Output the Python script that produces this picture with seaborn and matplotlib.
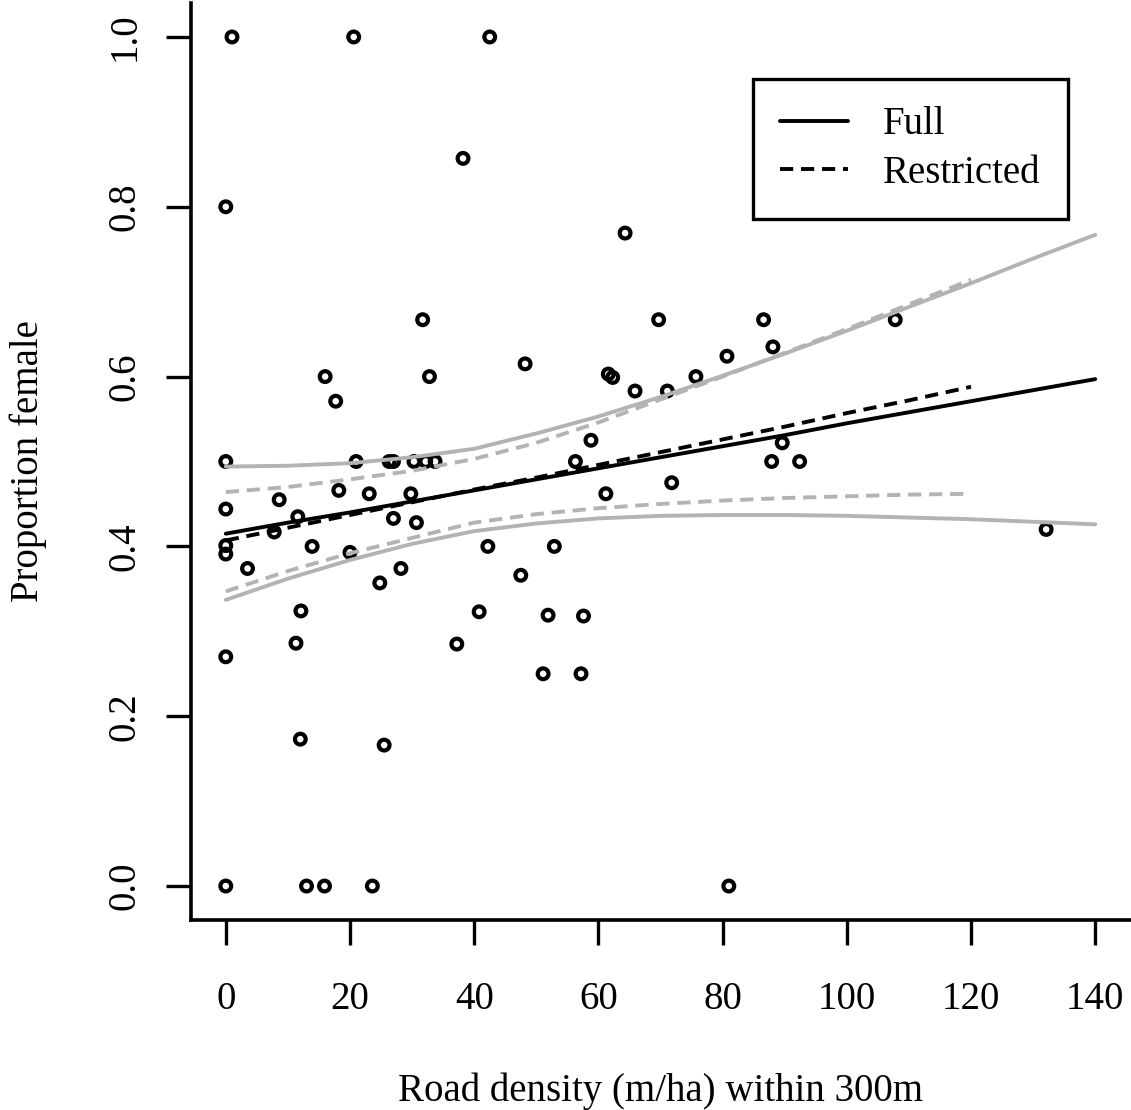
import numpy as np
import pandas as pd
import matplotlib
matplotlib.use("Agg")
import matplotlib.pyplot as plt
import seaborn as sns
from matplotlib.lines import Line2D

# Estilo base do seaborn, fonte serifada tipo Times e tudo em preto
sns.set_style("ticks")
plt.rcParams['font.family'] = ['Liberation Serif', 'DejaVu Serif']
plt.rcParams.update({'text.color': 'black', 'axes.labelcolor': 'black',
                     'xtick.color': 'black', 'ytick.color': 'black',
                     'axes.edgecolor': 'black'})

densidade = [1.0, 20.6, 42.5, 38.2, 0, 64.3,
             31.7, 69.7, 86.6, 107.8, 88.1, 80.7, 48.2, 61.6, 62.3,
             65.9, 71.1, 75.7, 16.0, 32.8, 17.7, 58.8, 89.6,
             0, 21.0, 26.3, 27.0, 30.3, 32.2, 33.7, 56.3, 87.9, 92.4,
             71.8, 18.2, 23.1, 29.8, 61.2, 8.6, 0, 11.6, 27.0, 30.7,
             132.1, 7.8, 0, 13.9, 42.2, 52.9, 0, 20.0, 3.5, 28.2,
             47.5, 24.8, 12.1, 40.8, 51.9, 57.6, 11.3, 37.2, 0,
             51.1, 57.2, 12.0, 25.5,
             0, 13.0, 15.9, 23.6, 81.0]
proporcao = [1.0, 1.0, 1.0, 0.857, 0.80, 0.769,
             0.667, 0.667, 0.667, 0.667, 0.635, 0.624, 0.615, 0.603, 0.599,
             0.583, 0.583, 0.600, 0.600, 0.600, 0.571, 0.525, 0.522,
             0.500, 0.500, 0.500, 0.500, 0.500, 0.500, 0.500, 0.500, 0.500, 0.500,
             0.475, 0.466, 0.462, 0.462, 0.462, 0.455, 0.444, 0.435, 0.433, 0.428,
             0.420, 0.417, 0.401, 0.400, 0.400, 0.400, 0.391, 0.393, 0.374, 0.374,
             0.366, 0.357, 0.324, 0.323, 0.319, 0.318, 0.286, 0.285, 0.270,
             0.250, 0.250, 0.173, 0.166,
             0.0, 0.0, 0.0, 0.0, 0.0]

# Curvas ajustadas (modelo completo) e intervalos
x_full = [0, 10, 20, 30, 40, 50, 60, 70, 80, 90, 100, 110, 120, 130, 140]
full_fit = [0.415, 0.428, 0.440, 0.453, 0.466, 0.479, 0.492, 0.505,
            0.518, 0.531, 0.545, 0.558, 0.571, 0.584, 0.597]
full_upper = [0.494, 0.495, 0.498, 0.505, 0.515, 0.533, 0.553, 0.576,
              0.601, 0.627, 0.654, 0.682, 0.710, 0.739, 0.767]
full_lower = [0.337, 0.362, 0.384, 0.403, 0.418, 0.427, 0.433, 0.436,
              0.437, 0.437, 0.436, 0.434, 0.432, 0.429, 0.426]

# Curvas ajustadas (modelo restrito)
x_restr = [0, 10, 20, 30, 40, 50, 60, 70, 80, 90, 100, 110, 120]
restr_fit = [0.407, 0.422, 0.437, 0.452, 0.467, 0.481, 0.496,
             0.511, 0.526, 0.541, 0.557, 0.572, 0.588]
restr_upper = [0.464, 0.470, 0.479, 0.489, 0.503, 0.522, 0.546,
               0.573, 0.600, 0.628, 0.656, 0.685, 0.714]
restr_lower = [0.347, 0.371, 0.392, 0.410, 0.428, 0.438, 0.445,
               0.450, 0.454, 0.457, 0.459, 0.461, 0.462]

cinza = '#b3b3b3'
tracejado = (0, (3.4, 2.0))
fonte = 28

fig = plt.figure(figsize=(11.31, 11.10), dpi=100)
ax = fig.add_axes([191 / 1131, 1 - 920 / 1110, (1130 - 191) / 1131, 917 / 1110])

# Pontos
sns.scatterplot(x=densidade, y=proporcao, ax=ax, marker='o', s=60,
                color='black', facecolor='none', edgecolor='black',
                linewidth=3.0, zorder=2)

# Linhas
lw = 2.8
sns.lineplot(x=x_full, y=full_upper, ax=ax, color=cinza, lw=lw, errorbar=None, zorder=3)
sns.lineplot(x=x_full, y=full_lower, ax=ax, color=cinza, lw=lw, errorbar=None, zorder=3)
sns.lineplot(x=x_restr, y=restr_upper, ax=ax, color=cinza, lw=lw, linestyle=tracejado,
             errorbar=None, zorder=3)
sns.lineplot(x=x_restr, y=restr_lower, ax=ax, color=cinza, lw=lw, linestyle=tracejado,
             errorbar=None, zorder=3)
sns.lineplot(x=x_full, y=full_fit, ax=ax, color='black', lw=lw, errorbar=None, zorder=4)
sns.lineplot(x=x_restr, y=restr_fit, ax=ax, color='black', lw=lw, linestyle=tracejado,
             errorbar=None, zorder=4)

# Eixos
ax.set_xlim(-5.6, 145.6)
ax.set_ylim(-0.04, 1.04)
ax.set_xticks(range(0, 141, 20))
ax.set_yticks([0, 0.2, 0.4, 0.6, 0.8, 1.0])
ax.set_yticklabels(['0.0', '0.2', '0.4', '0.6', '0.8', '1.0'])
sns.despine(ax=ax)
for lado in ['left', 'bottom']:
    ax.spines[lado].set_linewidth(2.6)
ax.tick_params(axis='both', length=18, width=2.4, labelsize=fonte, color='black')
ax.tick_params(axis='x', pad=26)
ax.tick_params(axis='y', pad=16, labelrotation=90)
for rot in ax.get_yticklabels():
    rot.set_va('center')

ax.set_xlabel('Road density (m/ha) within 300m', fontsize=fonte)
ax.set_ylabel('Proportion female', fontsize=fonte)
ax.xaxis.set_label_coords(0.5, -0.166)
ax.yaxis.set_label_coords(-0.153, 0.5)

# Legenda
handles = [Line2D([], [], color='black', lw=lw, label='Full'),
           Line2D([], [], color='black', lw=lw, linestyle=tracejado, label='Restricted')]
leg = ax.legend(handles=handles, loc='upper left',
                bbox_to_anchor=(753 / 1131, 1 - 79 / 1110), bbox_transform=fig.transFigure,
                frameon=True, fancybox=False, framealpha=1, edgecolor='black',
                fontsize=fonte, handlelength=1.75, handletextpad=0.9,
                borderpad=0.7, labelspacing=0.3, borderaxespad=0)
leg.get_frame().set_linewidth(2.4)

fig.savefig('out.png', dpi=100)
